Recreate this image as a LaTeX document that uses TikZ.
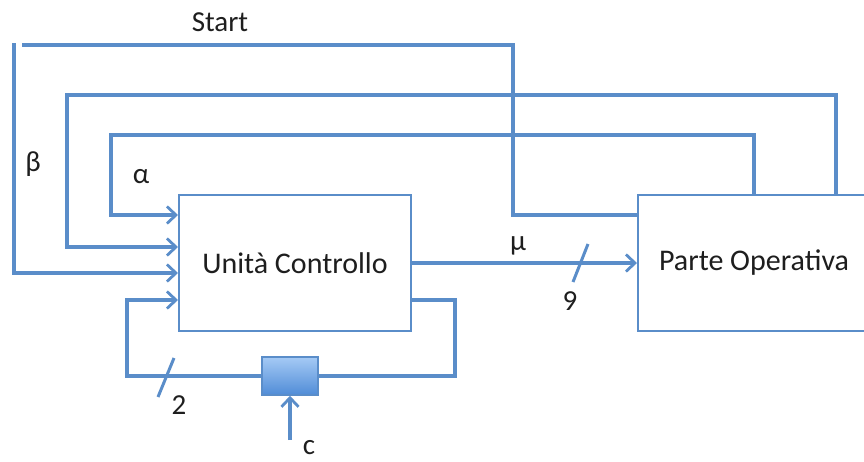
\documentclass[tikz,border=0pt]{standalone}
\usepackage{fontspec}
\setmainfont{Carlito}
\usetikzlibrary{arrows.meta,calc}
\definecolor{lineblue}{RGB}{90,141,201}
\definecolor{reglight}{RGB}{165,202,245}
\definecolor{regdark}{RGB}{80,140,215}
\definecolor{txt}{RGB}{30,30,30}
\tikzset{
  block/.style={draw=lineblue,line width=2pt,fill=white,minimum width=232pt,minimum height=136pt,inner sep=0pt,
    font=\fontsize{30}{32}\selectfont,text=txt},
  reg/.style={draw=lineblue,line width=1.5pt,top color=reglight,bottom color=regdark,minimum width=56pt,minimum height=38pt,inner sep=0pt},
  wire/.style={draw=lineblue,line width=3.3pt},
  arr/.style={wire,-{Straight Barb[length=9pt,width=17pt,line width=2.8pt]}},
  lbl/.style={font=\fontsize{29}{31}\selectfont,text=txt,inner sep=0pt},
  slash/.style={draw=lineblue,line width=3pt}
}
\begin{document}
\begin{tikzpicture}[x=1pt,y=-1pt]
\useasboundingbox (0,0) rectangle (864,461);
\begin{scope}
\clip (0,0) rectangle (864,461);
\node[block] (UC) at (295,263) {Unità Controllo};
\node[block] (PO) at (754,263) {Parte Operativa};
\node[reg] (R) at (290,376) {};
% coordinates
\coordinate (s0) at (22,45);
\coordinate (b0) at (14,43);
\coordinate (c0) at (290,440);
% Start
\draw[wire] (s0) -- (513,45) -- (513,215) -- (PO.west |- 0,215);
% beta
\draw[arr] (b0) -- (14,273) -- (UC.west |- 0,273);
% second line from PO top
\draw[arr] (PO.north -| 836,0) -- (836,95) -- (67,95) -- (67,247) -- (UC.west |- 0,247);
% alpha line
\draw[arr] (PO.north -| 754,0) -- (754,135) -- (111,135) -- (111,215) -- (UC.west |- 0,215);
% mu
\draw[arr] (UC.east) -- (PO.west);
% feedback loop
\draw[wire] (UC.east |- 0,300) -- (455,300) -- (455,376) -- (R.east);
\draw[arr] (R.west) -- (127,376) -- (127,300) -- (UC.west |- 0,300);
% c
\draw[arr] (c0) -- (R.south);
% slashes
\draw[slash] (573,282) -- (588,244);
\draw[slash] (158,397) -- (174,358);
\end{scope}
% labels
\node[lbl] (tStart) at (220,22) {Start};
\node[lbl] (tbeta) at (33,164) {β};
\node[lbl] (talpha) at (141,177) {α};
\node[lbl] (tmu) at (518,246) {μ};
\node[lbl] (tnine) at (570,301) {9};
\node[lbl] (ttwo) at (179,405) {2};
\node[lbl] (tc) at (309,448) {c};
\end{tikzpicture}
\end{document}
